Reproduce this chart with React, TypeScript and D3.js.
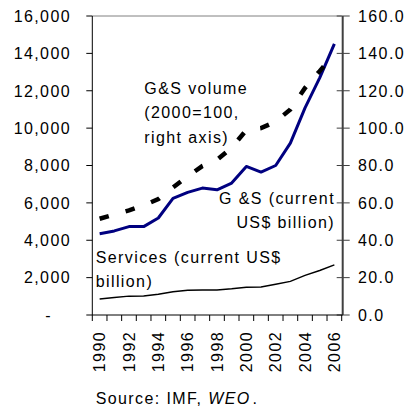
import React from "react";
import * as d3 from "d3";

const years = [1990, 1991, 1992, 1993, 1994, 1995, 1996, 1997, 1998, 1999, 2000, 2001, 2002, 2003, 2004, 2005, 2006];
const gsCurrent = [4350, 4500, 4730, 4730, 5190, 6240, 6560, 6790, 6700, 7060, 7950, 7650, 8000, 9200, 11080, 12690, 14510];
const servicesCurrent = [860, 930, 1010, 1020, 1110, 1250, 1330, 1340, 1340, 1400, 1480, 1500, 1650, 1800, 2120, 2380, 2680];
const gsVolume = [51.5, 53.8, 56, 58.7, 62, 68.2, 74.2, 79.7, 83, 89.5, 99, 100, 103.5, 110, 121.5, 130.5, 140];
const leftTicks = [0, 2000, 4000, 6000, 8000, 10000, 12000, 14000, 16000];
const rightTicks = [0, 20, 40, 60, 80, 100, 120, 140, 160];
const labelYears = [1990, 1992, 1994, 1996, 1998, 2000, 2002, 2004, 2006];

const W = 413;
const H = 408;
const L = 92.3;
const R = 341.7;
const T = 16;
const B = 315;

const FONT = "'Liberation Sans', Arial, sans-serif";
const FS = 16;
const LS = 1.4;

export default function App() {
  const x = d3.scaleBand<number>().domain(years).range([L, R]).padding(0);
  const bw = x.bandwidth();
  const cx = (yr: number) => (x(yr) as number) + bw / 2;
  const yL = d3.scaleLinear().domain([0, 16000]).range([B, T]);
  const yR = d3.scaleLinear().domain([0, 160]).range([B, T]);

  const lineL = d3
    .line<number>()
    .x((_, i) => cx(years[i]))
    .y((d) => yL(d));
  const lineR = d3
    .line<number>()
    .x((_, i) => cx(years[i]))
    .y((d) => yR(d));

  const fmt = d3.format(",");
  const boundaries = years.map((yr) => x(yr) as number).concat([R]);

  return (
    <svg
      width={W}
      height={H}
      style={{ position: "absolute", left: 0, top: 0, background: "#fff" }}
      fontFamily={FONT}
    >
      <rect x={0} y={0} width={W} height={H} fill="#fff" />
      {/* top border */}
      <line x1={L} x2={R} y1={T} y2={T} stroke="#808080" strokeWidth={1} />
      {/* left axis */}
      <line x1={L} x2={L} y1={T} y2={B} stroke="#000" strokeWidth={1} />
      {leftTicks.map((t) => (
        <g key={"lt" + t}>
          <line x1={L - 6} x2={L} y1={yL(t)} y2={yL(t)} stroke="#000" strokeWidth={1} />
          <text
            x={t === 0 ? 52 : 71}
            y={yL(t)}
            dy="0.36em"
            textAnchor="end"
            fontSize={FS}
            letterSpacing={LS}
            fill="#000"
          >
            {t === 0 ? "-" : fmt(t)}
          </text>
        </g>
      ))}
      {/* right axis */}
      <line x1={R + 1} x2={R + 1} y1={T} y2={B} stroke="#404040" strokeWidth={2} />
      {rightTicks.map((t) => (
        <g key={"rt" + t}>
          <line x1={R - 5} x2={R + 8} y1={yR(t)} y2={yR(t)} stroke="#404040" strokeWidth={1} />
          <text
            x={358}
            y={yR(t)}
            dy="0.36em"
            textAnchor="start"
            fontSize={FS}
            letterSpacing={LS}
            fill="#000"
          >
            {t.toFixed(1)}
          </text>
        </g>
      ))}
      {/* x axis */}
      <line x1={L} x2={R + 1} y1={B} y2={B} stroke="#000" strokeWidth={1} />
      {boundaries.map((b, i) => (
        <line key={"xt" + i} x1={b} x2={b} y1={B} y2={B + 6} stroke="#000" strokeWidth={1} />
      ))}
      {labelYears.map((yr) => (
        <text
          key={"xl" + yr}
          transform={`translate(${cx(yr)},${B + 16}) rotate(-90)`}
          dy="0.36em"
          textAnchor="end"
          fontSize={FS}
          letterSpacing={LS}
          fill="#000"
        >
          {yr}
        </text>
      ))}
      {/* series */}
      <path d={lineL(servicesCurrent) || ""} fill="none" stroke="#000" strokeWidth={1.5} />
      <path d={lineL(gsCurrent) || ""} fill="none" stroke="#000080" strokeWidth={3} strokeLinejoin="round" />
      <path
        d={lineR(gsVolume) || ""}
        fill="none"
        stroke="#000"
        strokeWidth={4.5}
        strokeDasharray="9.5 17.5"
      />
      {/* annotations */}
      <g fontSize={FS} letterSpacing={LS} fill="#000">
        <text x={144.3} y={88} dy="0.36em">G&amp;S volume</text>
        <text x={144.3} y={112.5} dy="0.36em">(2000=100,</text>
        <text x={144.3} y={137} dy="0.36em">right axis)</text>
        <text x={335} y={198.3} dy="0.36em" textAnchor="end">G &amp;S (current</text>
        <text x={335} y={222.7} dy="0.36em" textAnchor="end">US$ billion)</text>
        <text x={95.7} y={257.3} dy="0.36em">Services (current US$</text>
        <text x={95.7} y={281.7} dy="0.36em">billion)</text>
        <text x={95.7} y={398.3} dy="0.36em">
          Source: IMF, <tspan fontStyle="italic">WEO</tspan>
          <tspan dx={2}>.</tspan>
        </text>
      </g>
    </svg>
  );
}
